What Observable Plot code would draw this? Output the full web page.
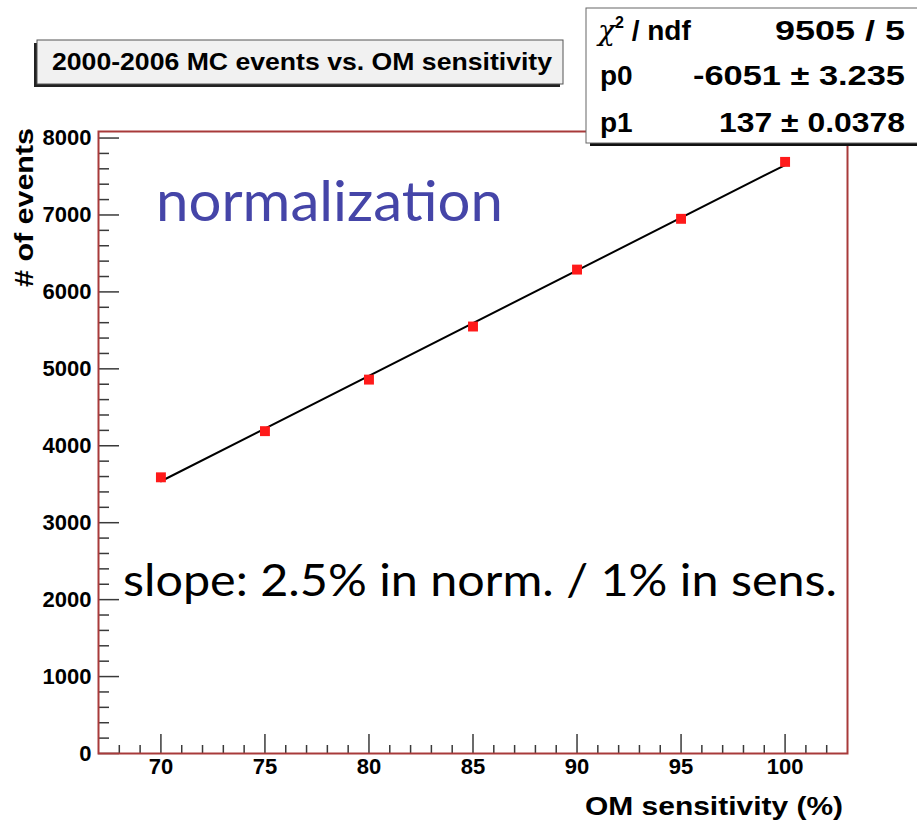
<!DOCTYPE html>
<html><head><meta charset="utf-8">
<script src="https://cdn.jsdelivr.net/npm/d3@7"></script>
<script src="https://cdn.jsdelivr.net/npm/@observablehq/plot@0.6"></script>
<style>body{margin:0;background:#fff} svg{display:block}</style>
</head><body><div id="chart"></div>
<script>
// data
const sensitivity = [70, 75, 80, 85, 90, 95, 100];
const events = [3590, 4190, 4860, 5550, 6290, 6950, 7690];
const fitX = [70, 100];
const fitY = [3539, 7649];
const xMajor = [70, 75, 80, 85, 90, 95, 100];
const xMinor = [68, 69, 71, 72, 73, 74, 76, 77, 78, 79, 81, 82, 83, 84, 86, 87, 88, 89, 91, 92, 93, 94, 96, 97, 98, 99, 101, 102];
const yMajor = [0, 1000, 2000, 3000, 4000, 5000, 6000, 7000, 8000];
const yMinor = [200, 400, 600, 800, 1200, 1400, 1600, 1800, 2200, 2400, 2600, 2800, 3200, 3400, 3600, 3800, 4200, 4400, 4600, 4800, 5200, 5400, 5600, 5800, 6200, 6400, 6600, 6800, 7200, 7400, 7600, 7800];
const titleText = "2000-2006 MC events vs. OM sensitivity";
const statsLabels = ["/ ndf", "p0", "p1"];
const statsValues = ["9505 / 5", "-6051 ± 3.235", "137 ± 0.0378"];

const W = 917, H = 825;
const mL = 98, mR = 70, mT = 131, mB = 72;
const fw = W - mL - mR, fh = H - mT - mB;
const tickColor = "#3a3a3a";
const font = "'Liberation Sans', Arial, Helvetica, sans-serif";

const fitData = fitX.map((x, i) => ({x, y: fitY[i]}));
const pts = sensitivity.map((x, i) => ({x, y: events[i]}));

const svg = Plot.plot({
  width: W, height: H,
  marginLeft: mL, marginRight: mR, marginTop: mT, marginBottom: mB,
  style: {fontFamily: font, background: "#fff", overflow: "visible"},
  x: {domain: [67, 103], axis: null},
  y: {domain: [0, 8085], axis: null},
  marks: [
    Plot.tickX(xMinor, {x: d => d, insetTop: fh - 8, stroke: tickColor, strokeWidth: 1.5}),
    Plot.tickX(xMajor, {x: d => d, insetTop: fh - 19, stroke: tickColor, strokeWidth: 1.5}),
    Plot.tickY(yMinor, {y: d => d, insetRight: fw - 11, stroke: tickColor, strokeWidth: 1.5}),
    Plot.tickY(yMajor, {y: d => d, insetRight: fw - 21, stroke: tickColor, strokeWidth: 1.5}),
    Plot.text(xMajor, {x: d => d, frameAnchor: "bottom", dy: 20, text: d => String(d),
      fontSize: 22, fontWeight: "bold", fill: "#000"}),
    Plot.text(yMajor, {y: d => d, frameAnchor: "left", dx: -7, textAnchor: "end", text: d => String(d),
      fontSize: 22, fontWeight: "bold", fill: "#000"}),
    Plot.frame({stroke: "#a83a3a", strokeWidth: 2}),
    Plot.line(fitData, {x: "x", y: "y", stroke: "#000", strokeWidth: 2}),
    Plot.dot(pts, {x: "x", y: "y", symbol: "square", r: 5.6, fill: "#ff1a1a", stroke: "none"})
  ]
});

const s = d3.select(svg);

// axis titles
s.append("text").attr("x", 843).attr("y", 815).attr("text-anchor", "end")
  .attr("font-family", font).attr("font-weight", "bold").attr("font-size", 26)
  .attr("textLength", 258).attr("lengthAdjust", "spacingAndGlyphs")
  .text("OM sensitivity (%)");
s.append("text").attr("transform", "translate(33,128) rotate(-90)").attr("text-anchor", "end")
  .attr("font-family", font).attr("font-weight", "bold").attr("font-size", 26)
  .attr("textLength", 159).attr("lengthAdjust", "spacingAndGlyphs")
  .text("# of events");

// title box
const tb = s.append("g");
tb.append("rect").attr("x", 34).attr("y", 43).attr("width", 526).attr("height", 44).attr("fill", "#222");
tb.append("rect").attr("x", 37).attr("y", 40).attr("width", 526).attr("height", 44)
  .attr("fill", "#f1f1f1").attr("stroke", "#555").attr("stroke-width", 1);
tb.append("text").attr("x", 52).attr("y", 70).attr("text-anchor", "start").attr("font-family", font).attr("font-weight", "bold")
  .attr("font-size", 24).attr("textLength", 500).attr("lengthAdjust", "spacingAndGlyphs").text(titleText);

// stats box
const sb = s.append("g");
sb.append("rect").attr("x", 590).attr("y", 12).attr("width", 340).attr("height", 134).attr("fill", "#111");
sb.append("rect").attr("x", 586).attr("y", 8).attr("width", 340).attr("height", 135)
  .attr("fill", "#fff").attr("stroke", "#666").attr("stroke-width", 1);
const rowsY = [40, 85, 132];
// chi2 label
const chi = sb.append("text").attr("x", 598).attr("y", rowsY[0]).attr("text-anchor", "start").attr("font-family", font)
  .attr("font-weight", "bold").attr("font-size", 28);
chi.append("tspan").attr("font-weight", "normal").attr("font-family", "'DejaVu Serif', serif").attr("font-style", "italic").text("χ");
chi.append("tspan").attr("font-size", 16).attr("dy", -12).text("2");
chi.append("tspan").attr("dy", 12).text(" " + statsLabels[0]);
sb.append("text").attr("x", 600).attr("y", rowsY[1]).attr("text-anchor", "start").attr("font-family", font).attr("font-weight", "bold")
  .attr("font-size", 28).text(statsLabels[1]);
sb.append("text").attr("x", 600).attr("y", rowsY[2]).attr("text-anchor", "start").attr("font-family", font).attr("font-weight", "bold")
  .attr("font-size", 28).text(statsLabels[2]);
const valLens = [130, 212, 186];
statsValues.forEach((v, i) => {
  sb.append("text").attr("x", 905).attr("y", rowsY[i]).attr("text-anchor", "end")
    .attr("font-family", font).attr("font-weight", "bold").attr("font-size", 28)
    .attr("textLength", valLens[i]).attr("lengthAdjust", "spacingAndGlyphs").text(v);
});

// annotations
s.append("text").attr("x", 156).attr("y", 221).attr("text-anchor", "start").attr("font-family", "Lato, 'Open Sans', sans-serif")
  .attr("font-size", 56).attr("fill", "#4545a8").attr("textLength", 347).attr("lengthAdjust", "spacingAndGlyphs")
  .text("normalization");
s.append("text").attr("x", 123).attr("y", 596).attr("text-anchor", "start").attr("font-family", "Lato, 'Open Sans', sans-serif")
  .attr("font-size", 44).attr("fill", "#000").attr("textLength", 714).attr("lengthAdjust", "spacingAndGlyphs")
  .text("slope: 2.5% in norm. / 1% in sens.");

document.getElementById("chart").appendChild(svg);
</script>
</body></html>
